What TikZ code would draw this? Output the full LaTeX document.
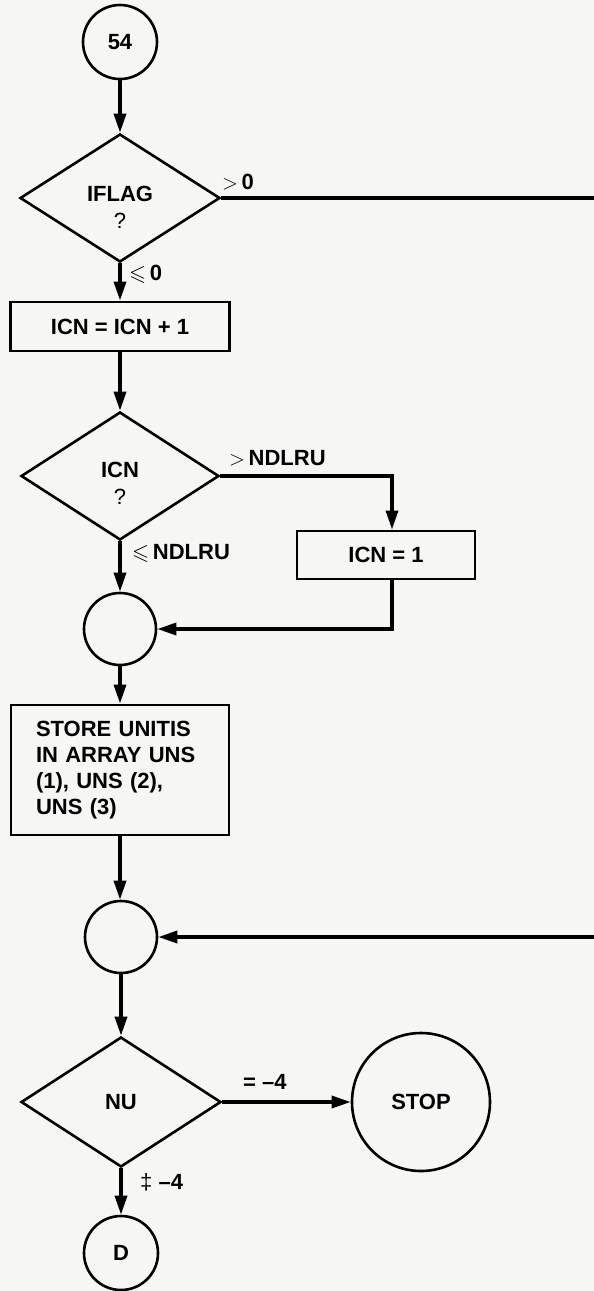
\documentclass[tikz,border=0pt]{standalone}
\usepackage{amssymb}
\usepackage{fontspec}
\setmainfont{Liberation Sans}
\usetikzlibrary{shapes.geometric,arrows.meta,calc}
\definecolor{bg}{RGB}{246,246,244}
\begin{document}
\begin{tikzpicture}[x=1pt,y=-1pt,
  every node/.style={font=\fontsize{22}{26}\selectfont\bfseries},
  conn/.style={line width=3.4pt},
  arr/.style={conn,-{Triangle[length=19pt,width=12pt]}},
  box/.style={draw,rectangle,inner sep=0pt,line width=2.8pt},
  dec/.style={draw,diamond,inner sep=0pt,line width=2.6pt},
  term/.style={draw,circle,inner sep=0pt,line width=2.6pt},
  txt/.style={inner sep=0pt,align=center},
  lab/.style={anchor=west,inner sep=0pt}
]
\fill[bg] (0,0) rectangle (594,1291);
\useasboundingbox (0,0) rectangle (594,1291);

\node[term,minimum size=74pt] (c54) at (120,42) {54};
\node[dec,minimum width=200pt,minimum height=128pt] (iflag) at (120,198) {};
\node[txt] (iflagt) at ($(iflag.center)+(0,9)$) {IFLAG\\[1pt]{\mdseries ?}};
\node[box,minimum width=219pt,minimum height=49pt] (inc) at (120,326.5) {ICN = ICN + 1};
\node[dec,minimum width=198pt,minimum height=128pt] (icn) at (120,476) {};
\node[txt] (icnt) at ($(icn.center)+(0,7)$) {ICN\\[1pt]{\mdseries ?}};
\node[box,minimum width=178pt,minimum height=48pt] (one) at (386,555) {ICN = 1};
\node[term,minimum size=72pt] (j1) at (120,629) {};
\node[box,minimum width=218pt,minimum height=130pt,align=left,text width=168pt] (store) at (120,770) {STORE UNITIS\\IN ARRAY UNS\\(1), UNS (2),\\UNS (3)};
\node[term,minimum size=72pt] (j2) at (121,937) {};
\node[dec,minimum width=200pt,minimum height=130pt] (nu) at (121,1102) {NU};
\node[term,minimum size=138pt] (stop) at (421,1102) {STOP};
\node[term,minimum size=74pt] (d) at (121,1253) {D};
\coordinate (e1) at (594,198);
\coordinate (e2) at (594,937);

\draw[arr] (c54.south) -- (iflag.north);
\draw[conn] (iflag.east) -- (e1);
\draw[arr] (iflag.south) -- (inc.north);
\draw[arr] (inc.south) -- (icn.north);
\draw[arr] (icn.east) -| ([xshift=6pt]one.north);
\draw[arr] (icn.south) -- (j1.north);
\draw[arr] ([xshift=6pt]one.south) |- (j1.east);
\draw[arr] (j1.south) -- (store.north);
\draw[arr] (store.south) -- (store.south |- j2.north);
\draw[arr] (e2) -- (j2.east);
\draw[arr] (j2.south) -- (nu.north);
\draw[arr] (nu.east) -- (stop.west);
\draw[arr] (nu.south) -- (d.north);

\node[lab] (l1) at (222,182) {$>$\,0};
\node[lab] (l2) at (129,274) {$\leqslant$\,0};
\node[lab] (l3) at (229,458) {$>$\,NDLRU};
\node[lab] (l4) at (132,553) {$\leqslant$\,NDLRU};
\node[lab] (l5) at (243,1082) {= –4};
\node[lab] (l6) at (140,1182) {{\mdseries ‡} –4};
\end{tikzpicture}
\end{document}
